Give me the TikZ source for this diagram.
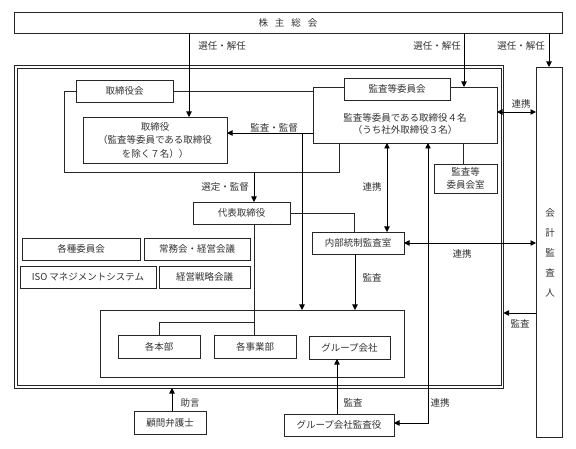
\documentclass[tikz,border=0pt]{standalone}
\usepackage{fontspec}
\setmainfont{Noto Sans CJK JP}
\usetikzlibrary{arrows.meta}
\begin{document}
\begin{tikzpicture}[x=1pt,y=-1pt,
  every node/.style={inner sep=0pt, outer sep=0pt, font=\fontsize{9.5}{12}\selectfont, text=black!80},
  bx/.style={draw=black!85, line width=0.6pt, fill=white, align=center},
  ln/.style={draw=black!85, line width=0.6pt},
  ar/.style={draw=black, line width=0.9pt, -{Triangle[length=5.5pt,width=5.5pt]}},
  dar/.style={draw=black, line width=0.9pt, {Triangle[length=5.5pt,width=5.5pt]}-{Triangle[length=5.5pt,width=5.5pt]}}
]
\useasboundingbox (0,0) rectangle (576,449);
% outer double frame
\draw[black!85, line width=1pt] (14,66) rectangle (503.5,388);
\draw[black!85, line width=0.6pt] (16.8,68.6) rectangle (501,385.4);

% boxes
\node[bx, minimum width=548pt, minimum height=21pt] (sh) at (288,22.5) {株\hspace{7pt}主\hspace{7pt}総\hspace{7pt}会};
\node[bx, minimum width=26pt, minimum height=370pt] (aud) at (549,252) {};
\node[font=\fontsize{9.5}{20}\selectfont, align=center] (audt) at (550,253) {会\\計\\監\\査\\人};

\node[bx, minimum width=184pt, minimum height=56pt] (acbig) at (405,115) {};
\node[align=center, font=\fontsize{9.5}{12.5}\selectfont] (act) at (405,124) {監査等委員である取締役４名\\（うち社外取締役３名）};
\node[bx, minimum width=106pt, minimum height=22pt] (ac) at (397,89) {監査等委員会};
\node[bx, minimum width=63pt, minimum height=29pt, font=\fontsize{9.5}{12.5}\selectfont] (acr) at (465.5,178.5) {監査等\\委員会室};

\node[bx, minimum width=97pt, minimum height=22pt] (bdm) at (124.5,91) {取締役会};
\node[bx, minimum width=144pt, minimum height=46pt, font=\fontsize{9.5}{13.5}\selectfont] (dir) at (155,140) {取締役\\（監査等委員である取締役\\を除く７名））};

\node[bx, minimum width=97pt, minimum height=22pt] (rep) at (241.5,213) {代表取締役};
\node[bx, minimum width=92pt, minimum height=22pt] (ia) at (358,243) {内部統制監査室};

\node[bx, minimum width=118pt, minimum height=22pt] (c1) at (81,249) {各種委員会};
\node[bx, minimum width=106pt, minimum height=22pt] (c2) at (197,249) {常務会・経営会議};
\node[bx, minimum width=136pt, minimum height=22pt] (c3) at (88,277) {ISO マネジメントシステム};
\node[bx, minimum width=91pt, minimum height=22pt] (c4) at (204.5,277) {経営戦略会議};

\node[bx, minimum width=304pt, minimum height=67pt] (grp) at (252,343.5) {};
\node[bx, minimum width=82pt, minimum height=23pt] (hq) at (159,346.5) {各本部};
\node[bx, minimum width=82pt, minimum height=23pt] (bu) at (255,346.5) {各事業部};
\node[bx, minimum width=81pt, minimum height=23pt] (gc) at (349.5,347.5) {グループ会社};

\node[bx, minimum width=72pt, minimum height=23pt] (law) at (170,422.5) {顧問弁護士};
\node[bx, minimum width=110pt, minimum height=22pt] (gaud) at (339,425) {グループ会社監査役};

% board frame
\draw[ln] (bdm.west) -- (64,0 |- bdm.west) -- (64,172) -- (339,172) -- (339,0 |- acbig.south);
\draw[ln] (bdm.east) -- (bdm.east -| acbig.west);
\coordinate (bf) at (254,172);

% shareholders arrows
\draw[ar] (189,0 |- sh.south) -- (189,0 |- dir.north);
\draw[ar] (464,0 |- sh.south) -- (464,0 |- acbig.north);
\draw[ar] (aud.north |- sh.south) -- (aud.north);
\node (l1) at (222,46) {選任・解任};
\node (l2) at (437,46) {選任・解任};
\node (l3) at (521,46) {選任・解任};

% audit/supervise
\draw[ar] (acbig.west |- 0,133) -- (dir.east |- 0,133);
\draw[ar] (302,133) -- (302,0 |- grp.north);
\node[anchor=south] (l4) at (274,132) {監査・監督};

% select/supervise
\draw[ar] (bf) -- (bf |- rep.north);
\node (l5) at (225,187) {選定・監督};

% rep lines
\draw[ln] (rep.east) -- (354,0 |- rep.east) -- (354,0 |- ia.north);
\draw[ln] (254,0 |- rep.south) -- (254,0 |- bu.north);
\draw[ln] (254,322) -- (hq.north |- 0,322) -- (hq.north);

% cooperation
\draw[dar] (387,0 |- acbig.south) -- (387,0 |- ia.north);
\node (l6) at (372,187) {連携};
\draw[dar] (428,0 |- acbig.south) -- (428,423) -- (gaud.east |- 0,423);
\node (l7) at (440,403) {連携};
\draw[ln] (463,0 |- acbig.south) -- (acr.north -| 463,0);
\draw[dar] (acbig.east |- 0,112) -- (aud.west |- 0,112);
\node (l8) at (521,104) {連携};
\draw[dar] (ia.east) -- (aud.west |- ia.east);
\node (l9) at (462,254) {連携};

% audits
\draw[ar] (355,0 |- ia.south) -- (355,0 |- grp.north);
\node (l10) at (372,278) {監査};
\draw[ar] (aud.west |- 0,313) -- (503.5,313);
\node (l11) at (520,324) {監査};
\draw[ar] (337,0 |- gaud.north) -- (337,0 |- gc.south);
\node (l12) at (353,403) {監査};
\draw[ar] (172,0 |- law.north) -- (172,388);
\node (l13) at (190,403) {助言};
\end{tikzpicture}
\end{document}
